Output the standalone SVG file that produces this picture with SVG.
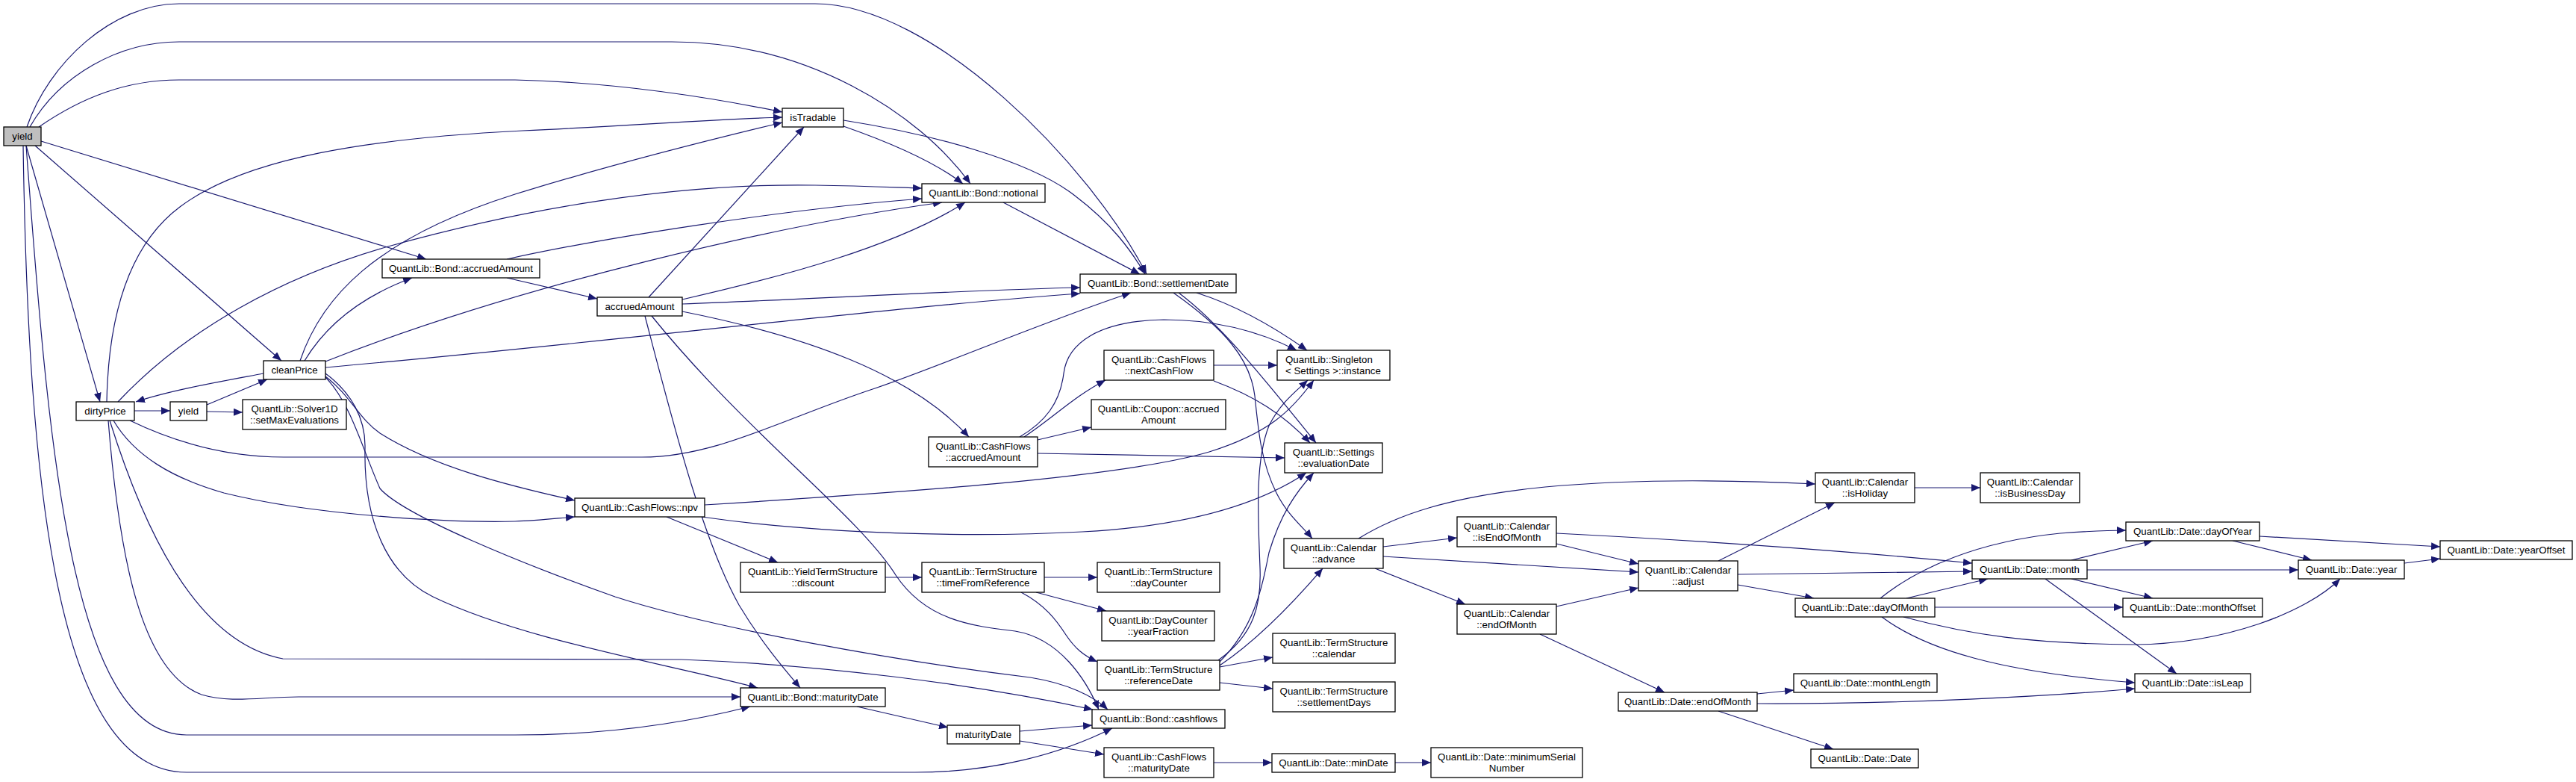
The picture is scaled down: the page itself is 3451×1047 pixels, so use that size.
<svg xmlns="http://www.w3.org/2000/svg" width="3451" height="1047" viewBox="0 0 3451 1047">
<style>
.n rect{fill:#fff;stroke:#000;stroke-width:1.3}
.root rect{fill:#bfbfbf}
text{font-family:"Liberation Sans",Arial,sans-serif;font-size:13.3px;text-anchor:middle;fill:#000}
text.l{text-anchor:start}
#edges path{fill:none;stroke:#191970;stroke-width:1.2;marker-end:url(#a)}
</style>
<defs>
<marker id="a" viewBox="0 0 12 10" markerWidth="12" markerHeight="10" refX="12" refY="5" orient="auto" markerUnits="userSpaceOnUse"><path d="M0,0L12,5L0,10z" fill="#191970"/></marker>
</defs>
<rect width="3451" height="1047" fill="#fff"/>
<g id="edges">
<path d="M36,170 C65,85 150,5 240,5 L1092,5 C1250,5 1460,220 1536,367"/>
<path d="M40,170 C80,100 160,56 240,56 L900,56 C1080,56 1230,150 1300,246"/>
<path d="M52,170 C110,130 170,107 240,107 L690,107 C820,110 950,130 1048,150"/>
<path d="M55,189 L571,347"/>
<path d="M47,195 L377,483"/>
<path d="M35,195 L134,538"/>
<path d="M35,195 C65,600 95,984 250,984 L690,984 C820,984 930,965 1005,946"/>
<path d="M31,195 C38,650 75,1034 250,1034 L1226,1034 C1330,1034 1420,1010 1490,975"/>
<path d="M143,538 C145,430 170,330 241,277 C330,210 500,185 700,175 C850,168 950,160 1048,157"/>
<path d="M158,538 C250,440 380,370 520,330 C700,280 900,245 1092,248 C1160,249 1200,251 1235,252"/>
<path d="M180,550 L228,550"/>
<path d="M174,563 C230,590 300,612 380,612 L860,612 C960,612 1050,560 1172,520 C1260,490 1400,430 1515,392"/>
<path d="M152,563 C180,610 230,640 300,660 C420,690 600,700 690,698 C720,697 745,694 770,692"/>
<path d="M145,563 C160,750 190,900 270,930 C310,942 350,933 400,933 L992,933"/>
<path d="M147,563 C190,700 260,860 379,882 L913,883 C1100,890 1300,915 1464,950"/>
<path d="M353,500 C300,510 230,522 182,538"/>
<path d="M402,483 C430,400 500,320 690,260 C820,220 960,185 1048,164"/>
<path d="M408,483 C440,430 490,395 552,372"/>
<path d="M436,484 C700,380 1050,300 1262,271"/>
<path d="M436,492 C800,460 1200,410 1447,393"/>
<path d="M436,504 C470,530 480,560 509,580 C580,625 680,650 770,670"/>
<path d="M436,505 C470,540 485,600 509,654 C540,690 700,755 824,799 C950,840 1200,885 1380,907 C1430,915 1465,932 1484,950"/>
<path d="M436,500 C470,525 490,560 489,600 C487,700 520,770 580,799 C700,857 900,890 1015,921"/>
<path d="M277,542 L358,508"/>
<path d="M277,551 L325,552"/>
<path d="M679,347 C800,320 1050,280 1235,266"/>
<path d="M679,372 L800,400"/>
<path d="M869,398 L1077,170"/>
<path d="M914,401 C1050,370 1200,330 1293,271"/>
<path d="M914,407 C1100,400 1300,388 1447,385"/>
<path d="M914,417 C1080,450 1220,500 1298,585"/>
<path d="M864,423 C900,560 940,720 990,810 C1020,860 1050,895 1072,921"/>
<path d="M873,423 C1000,580 1150,690 1200,770 C1240,830 1300,838 1360,845 C1420,855 1455,910 1472,950"/>
<path d="M1344,271 L1527,367"/>
<path d="M1130,169 C1190,190 1250,215 1290,246"/>
<path d="M1130,161 C1250,180 1380,215 1440,262 C1490,300 1515,335 1534,367"/>
<path d="M1603,392 C1660,410 1710,440 1751,469"/>
<path d="M1579,392 C1630,430 1680,490 1763,593"/>
<path d="M1572,392 C1640,440 1675,480 1681,530 C1686,580 1690,620 1710,660 C1725,690 1745,705 1758,721"/>
<path d="M1366,585 C1400,565 1420,540 1425,500 C1430,460 1470,430 1559,428 C1630,428 1690,445 1737,469"/>
<path d="M1372,585 C1410,560 1440,530 1481,509"/>
<path d="M1390,589 L1462,572"/>
<path d="M1390,607 L1721,613"/>
<path d="M1626,489 L1711,489"/>
<path d="M1626,510 C1680,530 1720,555 1755,593"/>
<path d="M944,676 C1200,660 1500,640 1620,605 C1700,580 1730,550 1760,509"/>
<path d="M940,692 C1100,715 1300,720 1450,712 C1580,705 1680,680 1750,633"/>
<path d="M893,692 L1042,753"/>
<path d="M1186,773 L1235,773"/>
<path d="M1399,773 L1470,773"/>
<path d="M1388,793 L1482,818"/>
<path d="M1368,793 C1400,810 1415,830 1428,850 C1440,868 1452,878 1470,886"/>
<path d="M1632,884 C1680,850 1690,810 1688,760 C1686,700 1680,620 1700,570 C1715,540 1735,525 1752,509"/>
<path d="M1634,886 C1680,840 1690,790 1700,740 C1715,690 1735,660 1760,633"/>
<path d="M1634,891 C1680,860 1730,810 1772,761"/>
<path d="M1634,893 L1705,880"/>
<path d="M1634,914 L1705,922"/>
<path d="M1853,732 L1952,720"/>
<path d="M1853,745 L2195,766"/>
<path d="M1842,761 L1963,809"/>
<path d="M1820,721 C1870,690 1940,665 2070,652 C2200,640 2330,643 2432,648"/>
<path d="M2085,714 C2300,725 2500,740 2642,754"/>
<path d="M2085,728 L2195,755"/>
<path d="M2085,812 L2195,787"/>
<path d="M2063,849 L2230,927"/>
<path d="M2302,751 L2458,673"/>
<path d="M2328,769 L2642,765"/>
<path d="M2328,783 L2430,801"/>
<path d="M2565,653 L2653,653"/>
<path d="M2554,801 L2663,775"/>
<path d="M2519,801 C2570,760 2650,725 2760,714 C2800,711 2830,710 2848,710"/>
<path d="M2592,813 L2844,813"/>
<path d="M2550,826 C2640,850 2720,862 2860,863 C2980,862 3090,820 3135,775"/>
<path d="M2521,826 C2580,870 2680,900 2860,914"/>
<path d="M2354,929 L2403,924"/>
<path d="M2354,942 C2550,943 2750,932 2860,922"/>
<path d="M2302,952 L2456,1003"/>
<path d="M2775,750 L2884,724"/>
<path d="M2796,763 L3079,763"/>
<path d="M2775,775 L2884,801"/>
<path d="M2740,775 L2916,902"/>
<path d="M3027,718 L3269,732"/>
<path d="M2991,724 L3097,750"/>
<path d="M3221,754 L3269,748"/>
<path d="M1148,946 L1270,974"/>
<path d="M1366,979 L1463,971"/>
<path d="M1366,992 L1479,1010"/>
<path d="M1626,1021 L1704,1021"/>
<path d="M1869,1021 L1917,1021"/>
</g>
<g id="n_yield" class="n root"><rect x="5" y="170" width="50" height="25"/><text x="30" y="187">yield</text></g>
<g id="n_isTradable" class="n"><rect x="1048" y="145" width="82" height="25"/><text x="1089" y="162">isTradable</text></g>
<g id="n_notional" class="n"><rect x="1235" y="246" width="165" height="25"/><text x="1317.5" y="263">QuantLib::Bond::notional</text></g>
<g id="n_bondAccrued" class="n"><rect x="512" y="347" width="211" height="25"/><text x="617.5" y="364">QuantLib::Bond::accruedAmount</text></g>
<g id="n_settlement" class="n"><rect x="1447" y="367" width="209" height="25"/><text x="1551.5" y="384">QuantLib::Bond::settlementDate</text></g>
<g id="n_accrued" class="n"><rect x="800" y="398" width="114" height="25"/><text x="857" y="415">accruedAmount</text></g>
<g id="n_clean" class="n"><rect x="353" y="483" width="83" height="25"/><text x="394.5" y="500">cleanPrice</text></g>
<g id="n_nextCashFlow" class="n"><rect x="1479" y="469" width="147" height="40"/><text x="1552.5" y="485.5">QuantLib::CashFlows</text><text x="1552.5" y="500.5">::nextCashFlow</text></g>
<g id="n_singleton" class="n"><rect x="1711" y="469" width="151" height="40"/><text class="l" x="1722" y="485.5">QuantLib::Singleton</text><text class="l" x="1722" y="500.5">&lt; Settings &gt;::instance</text></g>
<g id="n_dirty" class="n"><rect x="102" y="538" width="78" height="25"/><text x="141" y="555">dirtyPrice</text></g>
<g id="n_yield2" class="n"><rect x="228" y="538" width="49" height="25"/><text x="252.5" y="555">yield</text></g>
<g id="n_solver" class="n"><rect x="325" y="535" width="139" height="40"/><text x="394.5" y="551.5">QuantLib::Solver1D</text><text x="394.5" y="566.5">::setMaxEvaluations</text></g>
<g id="n_coupon" class="n"><rect x="1462" y="535" width="180" height="40"/><text x="1552" y="551.5">QuantLib::Coupon::accrued</text><text x="1552" y="566.5">Amount</text></g>
<g id="n_cfAccrued" class="n"><rect x="1244" y="585" width="146" height="40"/><text x="1317" y="601.5">QuantLib::CashFlows</text><text x="1317" y="616.5">::accruedAmount</text></g>
<g id="n_evalDate" class="n"><rect x="1721" y="593" width="131" height="40"/><text x="1786.5" y="609.5">QuantLib::Settings</text><text x="1786.5" y="624.5">::evaluationDate</text></g>
<g id="n_isHoliday" class="n"><rect x="2432" y="633" width="133" height="40"/><text x="2498.5" y="649.5">QuantLib::Calendar</text><text x="2498.5" y="664.5">::isHoliday</text></g>
<g id="n_isBusinessDay" class="n"><rect x="2653" y="633" width="133" height="40"/><text x="2719.5" y="649.5">QuantLib::Calendar</text><text x="2719.5" y="664.5">::isBusinessDay</text></g>
<g id="n_npv" class="n"><rect x="770" y="667" width="174" height="25"/><text x="857" y="684">QuantLib::CashFlows::npv</text></g>
<g id="n_isEndOfMonth" class="n"><rect x="1952" y="692" width="133" height="40"/><text x="2018.5" y="708.5">QuantLib::Calendar</text><text x="2018.5" y="723.5">::isEndOfMonth</text></g>
<g id="n_dayOfYear" class="n"><rect x="2848" y="699" width="179" height="25"/><text x="2937.5" y="716">QuantLib::Date::dayOfYear</text></g>
<g id="n_advance" class="n"><rect x="1720" y="721" width="133" height="40"/><text x="1786.5" y="737.5">QuantLib::Calendar</text><text x="1786.5" y="752.5">::advance</text></g>
<g id="n_yearOffset" class="n"><rect x="3269" y="724" width="177" height="25"/><text x="3357.5" y="741">QuantLib::Date::yearOffset</text></g>
<g id="n_adjust" class="n"><rect x="2195" y="751" width="133" height="40"/><text x="2261.5" y="767.5">QuantLib::Calendar</text><text x="2261.5" y="782.5">::adjust</text></g>
<g id="n_month" class="n"><rect x="2642" y="750" width="154" height="25"/><text x="2719" y="767">QuantLib::Date::month</text></g>
<g id="n_year" class="n"><rect x="3079" y="750" width="142" height="25"/><text x="3150" y="767">QuantLib::Date::year</text></g>
<g id="n_discount" class="n"><rect x="992" y="753" width="194" height="40"/><text x="1089" y="769.5">QuantLib::YieldTermStructure</text><text x="1089" y="784.5">::discount</text></g>
<g id="n_timeFromRef" class="n"><rect x="1235" y="753" width="164" height="40"/><text x="1317" y="769.5">QuantLib::TermStructure</text><text x="1317" y="784.5">::timeFromReference</text></g>
<g id="n_dayCounter" class="n"><rect x="1470" y="753" width="164" height="40"/><text x="1552" y="769.5">QuantLib::TermStructure</text><text x="1552" y="784.5">::dayCounter</text></g>
<g id="n_dayOfMonth" class="n"><rect x="2405" y="801" width="187" height="25"/><text x="2498.5" y="818">QuantLib::Date::dayOfMonth</text></g>
<g id="n_monthOffset" class="n"><rect x="2844" y="801" width="187" height="25"/><text x="2937.5" y="818">QuantLib::Date::monthOffset</text></g>
<g id="n_calEndOfMonth" class="n"><rect x="1952" y="809" width="133" height="40"/><text x="2018.5" y="825.5">QuantLib::Calendar</text><text x="2018.5" y="840.5">::endOfMonth</text></g>
<g id="n_yearFraction" class="n"><rect x="1476" y="818" width="151" height="40"/><text x="1551.5" y="834.5">QuantLib::DayCounter</text><text x="1551.5" y="849.5">::yearFraction</text></g>
<g id="n_tsCalendar" class="n"><rect x="1705" y="848" width="164" height="40"/><text x="1787" y="864.5">QuantLib::TermStructure</text><text x="1787" y="879.5">::calendar</text></g>
<g id="n_referenceDate" class="n"><rect x="1470" y="884" width="164" height="40"/><text x="1552" y="900.5">QuantLib::TermStructure</text><text x="1552" y="915.5">::referenceDate</text></g>
<g id="n_monthLength" class="n"><rect x="2403" y="902" width="192" height="25"/><text x="2499" y="919">QuantLib::Date::monthLength</text></g>
<g id="n_isLeap" class="n"><rect x="2860" y="902" width="155" height="25"/><text x="2937.5" y="919">QuantLib::Date::isLeap</text></g>
<g id="n_settlementDays" class="n"><rect x="1705" y="913" width="164" height="40"/><text x="1787" y="929.5">QuantLib::TermStructure</text><text x="1787" y="944.5">::settlementDays</text></g>
<g id="n_bondMaturity" class="n"><rect x="992" y="921" width="194" height="25"/><text x="1089" y="938">QuantLib::Bond::maturityDate</text></g>
<g id="n_dateEndOfMonth" class="n"><rect x="2168" y="927" width="186" height="25"/><text x="2261" y="944">QuantLib::Date::endOfMonth</text></g>
<g id="n_cashflows" class="n"><rect x="1463" y="950" width="178" height="25"/><text x="1552" y="967">QuantLib::Bond::cashflows</text></g>
<g id="n_maturity" class="n"><rect x="1269" y="971" width="97" height="25"/><text x="1317.5" y="988">maturityDate</text></g>
<g id="n_cfMaturity" class="n"><rect x="1479" y="1001" width="147" height="40"/><text x="1552.5" y="1017.5">QuantLib::CashFlows</text><text x="1552.5" y="1032.5">::maturityDate</text></g>
<g id="n_minDate" class="n"><rect x="1704" y="1009" width="165" height="25"/><text x="1786.5" y="1026">QuantLib::Date::minDate</text></g>
<g id="n_minSerial" class="n"><rect x="1917" y="1001" width="203" height="40"/><text x="2018.5" y="1017.5">QuantLib::Date::minimumSerial</text><text x="2018.5" y="1032.5">Number</text></g>
<g id="n_dateDate" class="n"><rect x="2426" y="1003" width="144" height="25"/><text x="2498" y="1020">QuantLib::Date::Date</text></g>
</svg>
